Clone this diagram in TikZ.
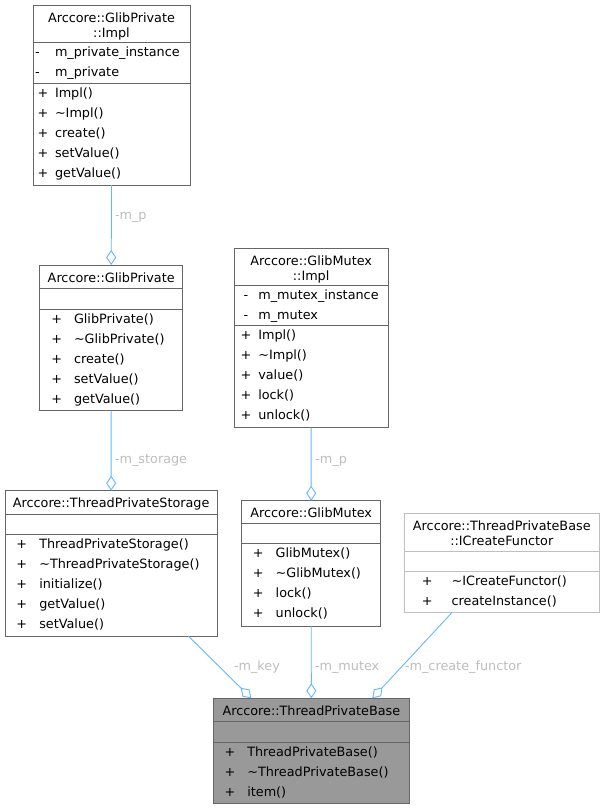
\documentclass[tikz,border=0pt]{standalone}
\usepackage{fontspec}
\setmainfont{DejaVu Sans}
\usetikzlibrary{arrows.meta}
\definecolor{boxgray}{HTML}{666666}
\definecolor{lightbox}{HTML}{BFBFBF}
\definecolor{basefill}{HTML}{999999}
\definecolor{edgeblue}{HTML}{63B8FF}
\definecolor{lblgray}{HTML}{BEBEBE}
\tikzset{
  clsbox/.style={draw=boxgray, line width=0.9pt, fill=white, inner sep=0pt, outer sep=0pt},
  sepline/.style={draw=boxgray, line width=0.9pt},
  txt/.style={inner sep=0pt, outer sep=0pt, font=\fontsize{12.8}{15}\selectfont, text=black},
  mtxt/.style={txt, anchor=base west},
  sym/.style={txt, anchor=base},
  lbl/.style={txt, anchor=base west, text=lblgray},
  assoc/.style={draw=edgeblue, line width=0.9pt, -{Diamond[open, length=15pt, width=10pt, line width=0.9pt]}}
}
\begin{document}
\begin{tikzpicture}[x=1pt, y=-1pt]
\useasboundingbox[fill=white] (0,0) rectangle (605,809);

% ---------- Arccore::GlibPrivate::Impl
\node[clsbox, minimum width=157pt, minimum height=180pt] (gpi) at (111.5,95) {};
\draw[sepline] (gpi.west |- 0,42.7) -- (gpi.east |- 0,42.7);
\draw[sepline] (gpi.west |- 0,83.3) -- (gpi.east |- 0,83.3);
\node[sym] (gpit1) at (111.5,22.2) {Arccore::GlibPrivate};
\node[sym] (gpit2) at (111.5,37.6) {::Impl};
\node[sym] (gpia1s) at (37.5,56.7) {-};
\node[mtxt] (gpia1) at (55,56.7) {m\_private\_instance};
\node[sym] (gpia2s) at (37.5,76.7) {-};
\node[mtxt] (gpia2) at (55,76.7) {m\_private};
\node[sym] (gpim1s) at (43,97.3) {+};
\node[mtxt] (gpim1) at (55,97.3) {Impl()};
\node[sym] (gpim2s) at (43,117.3) {+};
\node[mtxt] (gpim2) at (55,117.3) {\textasciitilde Impl()};
\node[sym] (gpim3s) at (43,137.3) {+};
\node[mtxt] (gpim3) at (55,137.3) {create()};
\node[sym] (gpim4s) at (43,157.3) {+};
\node[mtxt] (gpim4) at (55,157.3) {setValue()};
\node[sym] (gpim5s) at (43,177.3) {+};
\node[mtxt] (gpim5) at (55,177.3) {getValue()};

% ---------- Arccore::GlibPrivate
\node[clsbox, minimum width=143pt, minimum height=145.7pt] (gp) at (111.2,337.85) {};
\draw[sepline] (gp.west |- 0,288.3) -- (gp.east |- 0,288.3);
\draw[sepline] (gp.west |- 0,309) -- (gp.east |- 0,309);
\node[sym] (gpt) at (111.2,282) {Arccore::GlibPrivate};
\node[sym] (gpm1s) at (56.7,323) {+};
\node[mtxt] (gpm1) at (74,323) {GlibPrivate()};
\node[sym] (gpm2s) at (56.7,343) {+};
\node[mtxt] (gpm2) at (74,343) {\textasciitilde GlibPrivate()};
\node[sym] (gpm3s) at (56.7,363) {+};
\node[mtxt] (gpm3) at (74,363) {create()};
\node[sym] (gpm4s) at (56.7,383) {+};
\node[mtxt] (gpm4) at (74,383) {setValue()};
\node[sym] (gpm5s) at (56.7,403) {+};
\node[mtxt] (gpm5) at (74,403) {getValue()};

% ---------- Arccore::ThreadPrivateStorage
\node[clsbox, minimum width=212.3pt, minimum height=145.3pt] (tps) at (111.15,563.35) {};
\draw[sepline] (tps.west |- 0,514) -- (tps.east |- 0,514);
\draw[sepline] (tps.west |- 0,534.3) -- (tps.east |- 0,534.3);
\node[sym] (tpst) at (111.15,507.7) {Arccore::ThreadPrivateStorage};
\node[sym] (tpsm1s) at (21.7,548.3) {+};
\node[mtxt] (tpsm1) at (39.3,548.3) {ThreadPrivateStorage()};
\node[sym] (tpsm2s) at (21.7,568.3) {+};
\node[mtxt] (tpsm2) at (39.3,568.3) {\textasciitilde ThreadPrivateStorage()};
\node[sym] (tpsm3s) at (21.7,588.3) {+};
\node[mtxt] (tpsm3) at (39.3,588.3) {initialize()};
\node[sym] (tpsm4s) at (21.7,608.3) {+};
\node[mtxt] (tpsm4) at (39.3,608.3) {getValue()};
\node[sym] (tpsm5s) at (21.7,628.3) {+};
\node[mtxt] (tpsm5) at (39.3,628.3) {setValue()};

% ---------- Arccore::GlibMutex::Impl
\node[clsbox, minimum width=153.7pt, minimum height=179.7pt] (gmi) at (311.15,337.85) {};
\draw[sepline] (gmi.west |- 0,285.7) -- (gmi.east |- 0,285.7);
\draw[sepline] (gmi.west |- 0,325.7) -- (gmi.east |- 0,325.7);
\node[sym] (gmit1) at (311.15,265.2) {Arccore::GlibMutex};
\node[sym] (gmit2) at (311.15,280.6) {::Impl};
\node[sym] (gmia1s) at (246,299.7) {-};
\node[mtxt] (gmia1) at (258.3,299.7) {m\_mutex\_instance};
\node[sym] (gmia2s) at (246,319.7) {-};
\node[mtxt] (gmia2) at (258.3,319.7) {m\_mutex};
\node[sym] (gmim1s) at (246,339.7) {+};
\node[mtxt] (gmim1) at (258.3,339.7) {Impl()};
\node[sym] (gmim2s) at (246,359.7) {+};
\node[mtxt] (gmim2) at (258.3,359.7) {\textasciitilde Impl()};
\node[sym] (gmim3s) at (246,379.7) {+};
\node[mtxt] (gmim3) at (258.3,379.7) {value()};
\node[sym] (gmim4s) at (246,399.7) {+};
\node[mtxt] (gmim4) at (258.3,399.7) {lock()};
\node[sym] (gmim5s) at (246,419.7) {+};
\node[mtxt] (gmim5) at (258.3,419.7) {unlock()};

% ---------- Arccore::GlibMutex
\node[clsbox, minimum width=139pt, minimum height=125.3pt] (gm) at (311.2,563.35) {};
\draw[sepline] (gm.west |- 0,523.3) -- (gm.east |- 0,523.3);
\draw[sepline] (gm.west |- 0,543.3) -- (gm.east |- 0,543.3);
\node[sym] (gmt) at (311.2,517.7) {Arccore::GlibMutex};
\node[sym] (gmm1s) at (258.3,557.3) {+};
\node[mtxt] (gmm1) at (275.7,557.3) {GlibMutex()};
\node[sym] (gmm2s) at (258.3,577.3) {+};
\node[mtxt] (gmm2) at (275.7,577.3) {\textasciitilde GlibMutex()};
\node[sym] (gmm3s) at (258.3,597.3) {+};
\node[mtxt] (gmm3) at (275.7,597.3) {lock()};
\node[sym] (gmm4s) at (258.3,617.3) {+};
\node[mtxt] (gmm4) at (275.7,617.3) {unlock()};

% ---------- Arccore::ThreadPrivateBase::ICreateFunctor
\node[clsbox, draw=lightbox, minimum width=195pt, minimum height=99.4pt] (icf) at (501.8,563) {};
\draw[sepline, draw=lightbox] (icf.west |- 0,551) -- (icf.east |- 0,551);
\draw[sepline, draw=lightbox] (icf.west |- 0,571.7) -- (icf.east |- 0,571.7);
\node[sym] (icft1) at (501.8,530.1) {Arccore::ThreadPrivateBase};
\node[sym] (icft2) at (501.8,545.6) {::ICreateFunctor};
\node[sym] (icfm1s) at (427.3,585.7) {+};
\node[mtxt] (icfm1) at (451.7,585.7) {\textasciitilde ICreateFunctor()};
\node[sym] (icfm2s) at (427.3,605.7) {+};
\node[mtxt] (icfm2) at (451.7,605.7) {createInstance()};

% ---------- Arccore::ThreadPrivateBase
\node[clsbox, fill=basefill, minimum width=195.3pt, minimum height=105.4pt] (tpb) at (311.35,751) {};
\draw[sepline] (tpb.west |- 0,721.7) -- (tpb.east |- 0,721.7);
\draw[sepline] (tpb.west |- 0,742.3) -- (tpb.east |- 0,742.3);
\node[sym] (tpbt) at (311.35,715.3) {Arccore::ThreadPrivateBase};
\node[sym] (tpbm1s) at (230,756.3) {+};
\node[mtxt] (tpbm1) at (247.3,756.3) {ThreadPrivateBase()};
\node[sym] (tpbm2s) at (230,776.3) {+};
\node[mtxt] (tpbm2) at (247.3,776.3) {\textasciitilde ThreadPrivateBase()};
\node[sym] (tpbm3s) at (230,796.3) {+};
\node[mtxt] (tpbm3) at (247.3,796.3) {item()};

% ---------- connectors
\draw[assoc] (gpi.south) -- (gp.north);
\draw[assoc] (gp.south) -- (tps.north);
\draw[assoc] (gmi.south) -- (gm.north);
\draw[assoc] (gm.south) -- (tpb.north);
\draw[assoc] ([xshift=-29pt]tps.south east) -- ([xshift=-60pt]tpb.north);
\draw[assoc] ([xshift=-50pt]icf.south) -- ([xshift=61pt]tpb.north);

% ---------- labels
\node[lbl] (l1) at (115,219.5) {-m\_p};
\node[lbl] (l2) at (115,463.3) {-m\_storage};
\node[lbl] (l3) at (315.3,463.5) {-m\_p};
\node[lbl] (l4) at (234,670) {-m\_key};
\node[lbl] (l5) at (315,670) {-m\_mutex};
\node[lbl] (l6) at (405,670) {-m\_create\_functor};
\end{tikzpicture}
\end{document}
